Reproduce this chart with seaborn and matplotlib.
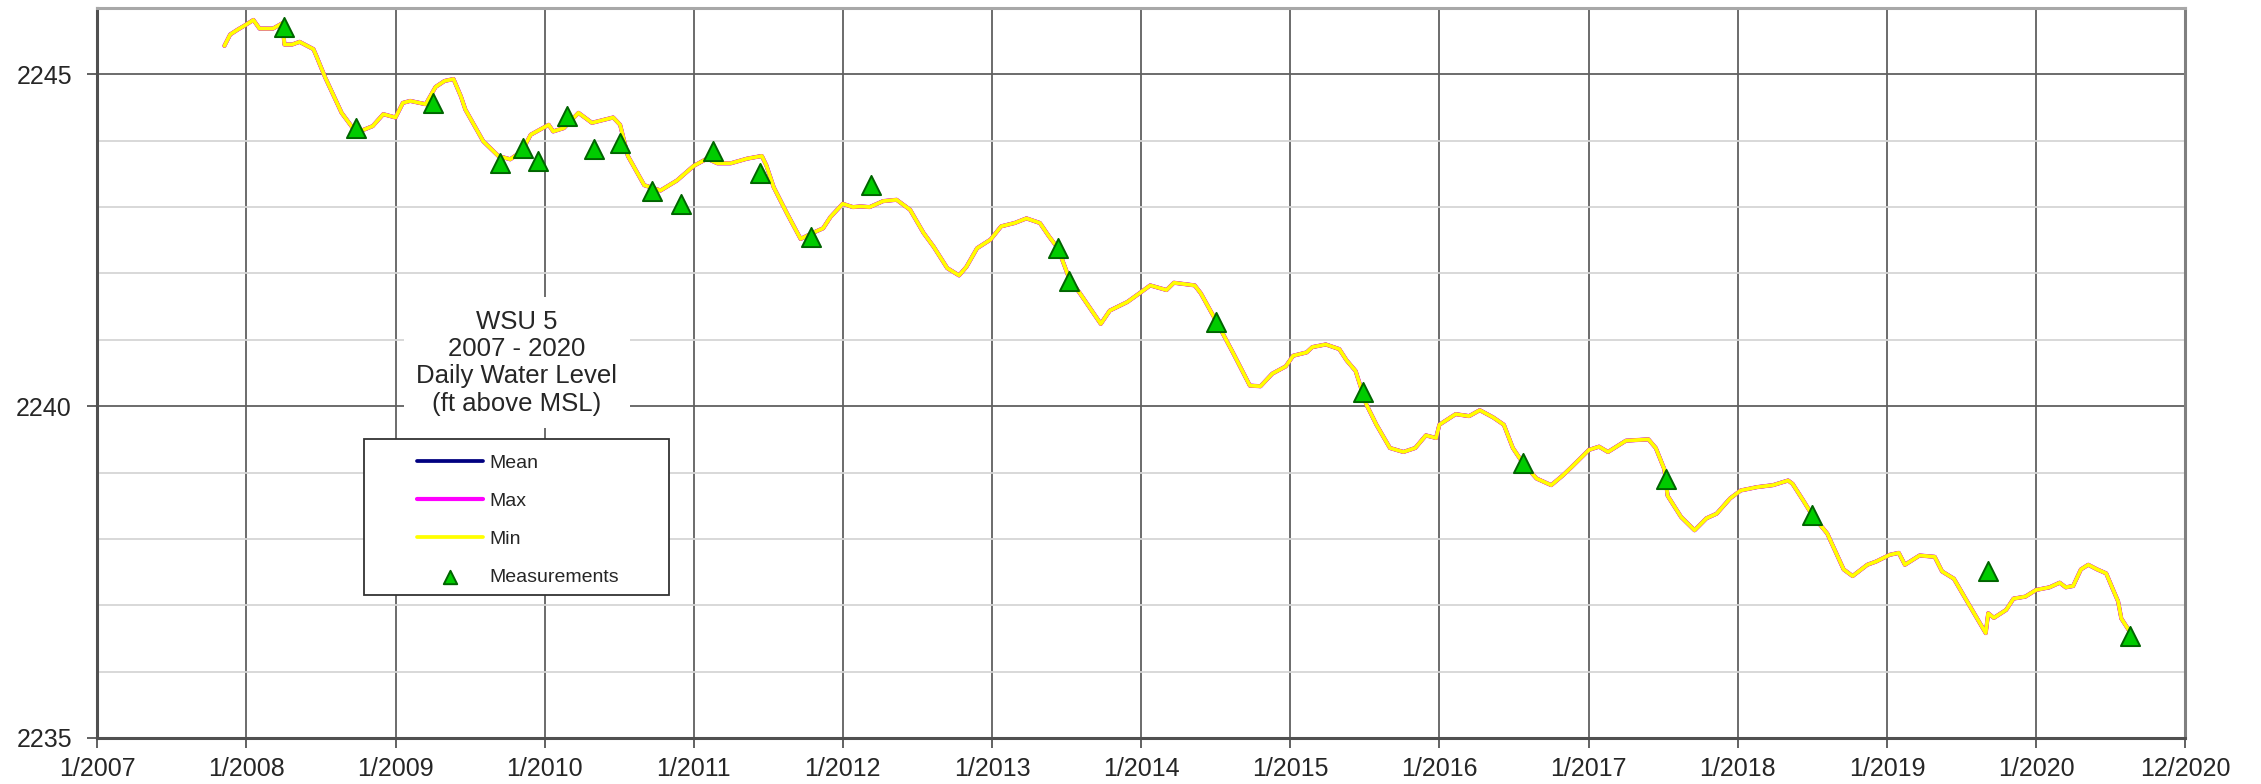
import pandas as pd
import numpy as np
import matplotlib
matplotlib.use('Agg')
import matplotlib.pyplot as plt
import matplotlib.patches as patches
import seaborn as sns

sns.set_style('white')
plt.rcParams['font.family'] = ['Liberation Sans', 'DejaVu Sans']

## daily water level (ft above MSL)
level_dates = [
    '2007-11-09', '2007-11-23', '2007-12-13', '2007-12-27', '2008-01-19', '2008-02-03',
    '2008-03-07', '2008-03-30', '2008-04-04', '2008-04-23', '2008-05-11', '2008-06-14',
    '2008-06-21', '2008-07-13', '2008-08-22', '2008-09-27', '2008-11-06', '2008-12-02',
    '2009-01-01', '2009-01-19', '2009-02-06', '2009-03-16', '2009-04-09', '2009-05-01',
    '2009-05-23', '2009-06-10', '2009-06-21', '2009-08-04', '2009-09-10', '2009-10-09',
    '2009-11-06', '2009-11-28', '2010-01-11', '2010-01-22', '2010-02-17', '2010-03-25',
    '2010-04-27', '2010-06-18', '2010-07-05', '2010-07-24', '2010-09-02', '2010-10-12',
    '2010-11-21', '2011-01-01', '2011-02-03', '2011-02-28', '2011-04-02', '2011-05-12',
    '2011-06-17', '2011-06-28', '2011-07-16', '2011-08-18', '2011-09-20', '2011-10-23',
    '2011-11-14', '2011-12-02', '2012-01-01', '2012-01-26', '2012-02-14', '2012-03-07',
    '2012-04-09', '2012-05-12', '2012-06-14', '2012-07-17', '2012-08-11', '2012-09-13',
    '2012-10-12', '2012-10-30', '2012-11-25', '2012-12-28', '2013-01-23', '2013-02-25',
    '2013-03-26', '2013-04-28', '2013-05-20', '2013-06-11', '2013-06-25', '2013-07-09',
    '2013-08-04', '2013-09-24', '2013-10-16', '2013-11-28', '2014-01-01', '2014-01-23',
    '2014-03-04', '2014-03-22', '2014-05-12', '2014-05-27', '2014-07-02', '2014-08-15',
    '2014-09-24', '2014-10-20', '2014-11-18', '2014-12-21', '2015-01-08', '2015-02-10',
    '2015-02-24', '2015-03-29', '2015-05-01', '2015-05-19', '2015-06-10', '2015-07-06',
    '2015-07-31', '2015-09-02', '2015-10-05', '2015-11-03', '2015-11-29', '2015-12-24',
    '2016-01-01', '2016-02-10', '2016-03-14', '2016-04-09', '2016-05-12', '2016-06-07',
    '2016-06-29', '2016-07-24', '2016-08-26', '2016-10-01', '2016-10-30', '2016-11-21',
    '2017-01-01', '2017-01-26', '2017-02-17', '2017-04-02', '2017-05-27', '2017-06-14',
    '2017-07-05', '2017-07-13', '2017-08-15', '2017-09-17', '2017-10-16', '2017-11-10',
    '2017-12-13', '2018-01-08', '2018-02-17', '2018-03-28', '2018-05-04', '2018-05-15',
    '2018-06-10', '2018-07-02', '2018-08-08', '2018-09-17', '2018-10-09', '2018-11-14',
    '2018-12-06', '2019-01-08', '2019-01-30', '2019-02-14', '2019-03-22', '2019-04-28',
    '2019-05-16', '2019-06-14', '2019-07-20', '2019-08-31', '2019-09-06', '2019-09-20',
    '2019-10-20', '2019-11-07', '2019-12-06', '2020-01-01', '2020-02-03', '2020-02-28',
    '2020-03-14', '2020-04-01', '2020-04-20', '2020-05-08', '2020-05-30', '2020-06-21',
    '2020-07-06', '2020-07-20', '2020-07-28', '2020-08-18',
]
level_ft = [
    2245.43, 2245.60, 2245.68, 2245.73, 2245.82, 2245.69,
    2245.69, 2245.77, 2245.45, 2245.45, 2245.49, 2245.38,
    2245.28, 2244.95, 2244.42, 2244.12, 2244.22, 2244.40,
    2244.35, 2244.57, 2244.60, 2244.55, 2244.81, 2244.90,
    2244.93, 2244.67, 2244.47, 2243.99, 2243.77, 2243.72,
    2243.84, 2244.09, 2244.24, 2244.14, 2244.19, 2244.42,
    2244.27, 2244.35, 2244.24, 2243.77, 2243.33, 2243.25,
    2243.40, 2243.62, 2243.73, 2243.66, 2243.66, 2243.73,
    2243.77, 2243.63, 2243.30, 2242.90, 2242.52, 2242.62,
    2242.68, 2242.85, 2243.05, 2243.00, 2243.01, 2243.00,
    2243.09, 2243.11, 2242.96, 2242.61, 2242.40, 2242.08,
    2241.97, 2242.10, 2242.38, 2242.51, 2242.71, 2242.76,
    2242.83, 2242.76, 2242.56, 2242.38, 2242.15, 2241.92,
    2241.70, 2241.24, 2241.44, 2241.57, 2241.72, 2241.82,
    2241.75, 2241.86, 2241.82, 2241.70, 2241.30, 2240.79,
    2240.31, 2240.30, 2240.49, 2240.60, 2240.76, 2240.81,
    2240.89, 2240.93, 2240.86, 2240.69, 2240.53, 2240.03,
    2239.72, 2239.37, 2239.31, 2239.37, 2239.56, 2239.52,
    2239.72, 2239.88, 2239.85, 2239.94, 2239.83, 2239.72,
    2239.37, 2239.14, 2238.91, 2238.81, 2238.96, 2239.09,
    2239.34, 2239.39, 2239.31, 2239.48, 2239.50, 2239.37,
    2239.05, 2238.65, 2238.33, 2238.13, 2238.31, 2238.38,
    2238.61, 2238.73, 2238.78, 2238.81, 2238.88, 2238.83,
    2238.58, 2238.36, 2238.08, 2237.54, 2237.44, 2237.61,
    2237.66, 2237.76, 2237.79, 2237.61, 2237.75, 2237.73,
    2237.51, 2237.40, 2237.02, 2236.58, 2236.88, 2236.81,
    2236.93, 2237.10, 2237.13, 2237.23, 2237.27, 2237.34,
    2237.27, 2237.29, 2237.54, 2237.61, 2237.54, 2237.48,
    2237.26, 2237.06, 2236.80, 2236.60,
]

## manual measurements
meas_dates = [
    '2008-04-03', '2008-09-27', '2009-04-04', '2009-09-15', '2009-11-10', '2009-12-16',
    '2010-02-24', '2010-05-01', '2010-07-05', '2010-09-20', '2010-12-01', '2011-02-17',
    '2011-06-13', '2011-10-16', '2012-03-10', '2013-06-10', '2013-07-09', '2014-07-02',
    '2015-06-28', '2016-07-23', '2017-07-09', '2018-07-02', '2019-09-06', '2020-08-18',
]
meas_ft = [
    2245.71, 2244.19, 2244.57, 2243.67, 2243.89, 2243.70,
    2244.37, 2243.88, 2243.97, 2243.24, 2243.04, 2243.85,
    2243.52, 2242.55, 2243.33, 2242.38, 2241.89, 2241.27,
    2240.21, 2239.14, 2238.91, 2238.36, 2237.51, 2236.54,
]

tick_dates = ['2007-01-01', '2008-01-01', '2009-01-01', '2010-01-01', '2011-01-01',
              '2012-01-01', '2013-01-01', '2014-01-01', '2015-01-01', '2016-01-01',
              '2017-01-01', '2018-01-01', '2019-01-01', '2020-01-01', '2020-12-31']
tick_labels = ['1/2007', '1/2008', '1/2009', '1/2010', '1/2011', '1/2012', '1/2013',
               '1/2014', '1/2015', '1/2016', '1/2017', '1/2018', '1/2019', '1/2020',
               '12/2020']

df = pd.DataFrame({'date': pd.to_datetime(level_dates), 'level': level_ft})
meas = pd.DataFrame({'date': pd.to_datetime(meas_dates), 'level': meas_ft})

fig = plt.figure(figsize=(22.61, 7.84), dpi=100)
ax = fig.add_axes([0.0429, 0.0587, 0.9235, 0.9311])

# mean / max / min lie on top of each other at this scale
sns.lineplot(data=df, x='date', y='level', ax=ax, color='#000080', lw=2.7,
             estimator=None, label='Mean', zorder=4)
sns.lineplot(data=df, x='date', y='level', ax=ax, color='#ff00ff', lw=3.0,
             estimator=None, label='Max', zorder=5)
sns.lineplot(data=df, x='date', y='level', ax=ax, color='#ffff00', lw=2.7,
             estimator=None, label='Min', zorder=6)
sns.scatterplot(data=meas, x='date', y='level', ax=ax, marker='^', s=190,
                color='#00cc00', edgecolor='#006400', linewidth=1.4,
                label='Measurements', zorder=7)

ax.set_xlim(pd.Timestamp('2007-01-01'), pd.Timestamp('2020-12-31'))
ax.set_ylim(2235, 2246)
ax.set_xticks(pd.to_datetime(tick_dates))
ax.set_xticklabels(tick_labels)
ax.set_yticks([2235, 2240, 2245])
ax.set_yticks(np.arange(2235, 2247), minor=True)
ax.set_xlabel('')
ax.set_ylabel('')

ax.set_axisbelow(True)
ax.grid(which='major', axis='both', color='#606060', lw=1.3)
ax.grid(which='minor', axis='y', color='#d6d6d6', lw=1.3)
ax.tick_params(which='major', direction='out', length=7, width=1.3, color='#555555',
               labelsize=18, bottom=True, left=True)
ax.tick_params(axis='y', pad=11)
ax.tick_params(axis='x', pad=7)
ax.tick_params(which='minor', length=0)

for side in ['left', 'bottom']:
    ax.spines[side].set_color('#505050')
    ax.spines[side].set_linewidth(2.2)
ax.spines['top'].set_color('#a8a8a8')
ax.spines['top'].set_linewidth(2.2)
ax.spines['right'].set_color('#808080')
ax.spines['right'].set_linewidth(2.2)

ax.text(0.201, 0.514, 'WSU 5\n2007 - 2020\nDaily Water Level\n(ft above MSL)',
        transform=ax.transAxes, ha='center', va='center', fontsize=18.5,
        linespacing=1.17, zorder=3,
        bbox=dict(facecolor='white', edgecolor='none', pad=9))

box = patches.Rectangle((0.128, 0.196), 0.146, 0.214, transform=ax.transAxes,
                        facecolor='white', edgecolor='#333333', lw=1.3, zorder=3)
ax.add_patch(box)
leg = ax.legend(loc='upper left', bbox_to_anchor=(0.1533, 0.389), frameon=False,
                borderpad=0, borderaxespad=0, labelspacing=1.05, handlelength=3.4,
                handletextpad=0.3, fontsize=14, markerscale=0.7)
leg.set_zorder(8)

fig.savefig('out.png', dpi=100)
